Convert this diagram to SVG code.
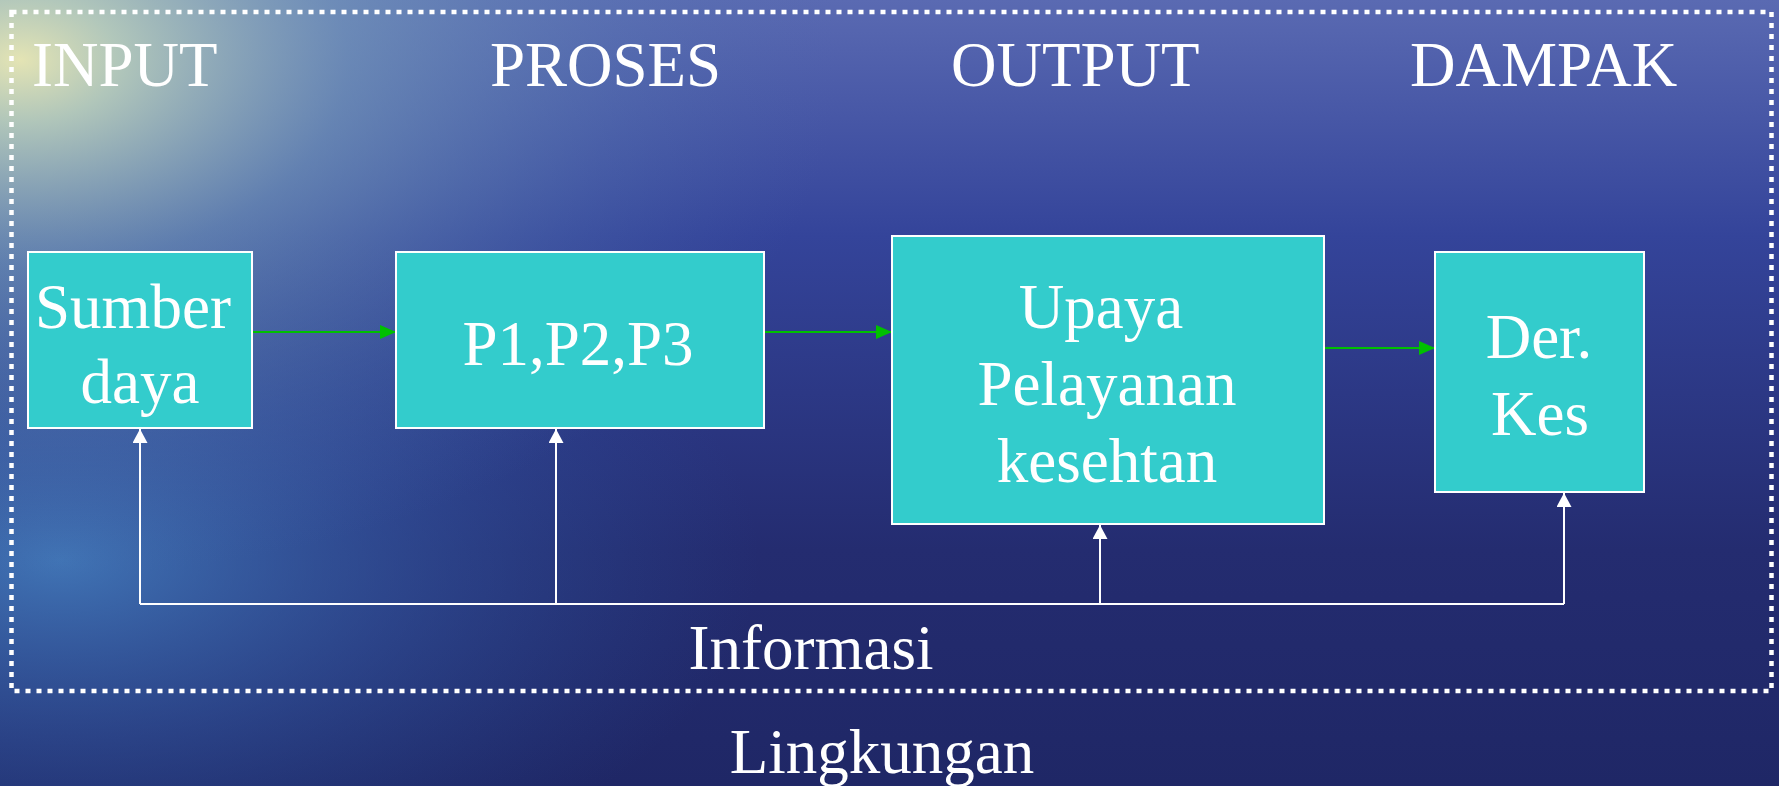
<svg xmlns="http://www.w3.org/2000/svg" width="1779" height="786" viewBox="0 0 1779 786">
<defs>
<linearGradient id="bgv" x1="0" y1="0" x2="0" y2="1">
<stop offset="0" stop-color="#5a6ab2"/>
<stop offset="0.3" stop-color="#34449a"/>
<stop offset="0.7" stop-color="#242c70"/>
<stop offset="1" stop-color="#1f2766"/>
</linearGradient>
<radialGradient id="glow" cx="0" cy="0" r="1" gradientUnits="userSpaceOnUse" gradientTransform="translate(20,60) scale(820,520)">
<stop offset="0" stop-color="#e4e4b4" stop-opacity="1"/>
<stop offset="0.12" stop-color="#bcd2bc" stop-opacity="0.9"/>
<stop offset="0.4" stop-color="#7aa2bc" stop-opacity="0.6"/>
<stop offset="0.75" stop-color="#5a80b4" stop-opacity="0.25"/>
<stop offset="1" stop-color="#4a6aaa" stop-opacity="0"/>
</radialGradient>
<radialGradient id="leftblue" cx="0" cy="0" r="1" gradientUnits="userSpaceOnUse" gradientTransform="translate(60,560) scale(700,360)">
<stop offset="0" stop-color="#4a8ccc" stop-opacity="0.75"/>
<stop offset="0.5" stop-color="#3a6ab4" stop-opacity="0.4"/>
<stop offset="1" stop-color="#2a55a0" stop-opacity="0"/>
</radialGradient>
<marker id="ag" markerWidth="16" markerHeight="14" refX="16" refY="7" orient="auto" markerUnits="userSpaceOnUse">
<path d="M0,0 L16,7 L0,14 z" fill="#00c000"/>
</marker>
<marker id="aw" markerWidth="15" markerHeight="15" refX="14" refY="7.5" orient="auto" markerUnits="userSpaceOnUse">
<path d="M0,0 L14,7.5 L0,15 z" fill="#ffffff"/>
</marker>
</defs>
<style>
.box{fill:#33cccc;stroke:#ffffff;stroke-width:2}
.t{font-family:"Liberation Serif","Times New Roman",serif;font-size:63px;fill:#ffffff}
.m{text-anchor:middle}
.g{stroke:#00c000;stroke-width:2;fill:none;marker-end:url(#ag)}
.w{stroke:#ffffff;stroke-width:2;fill:none}
.wa{stroke:#ffffff;stroke-width:2;fill:none;marker-end:url(#aw)}
</style>
<rect x="0" y="0" width="1779" height="786" fill="url(#bgv)"/>
<rect x="0" y="0" width="1779" height="786" fill="url(#leftblue)"/>
<rect x="0" y="0" width="1779" height="786" fill="url(#glow)"/>
<rect id="frame" x="11.5" y="12" width="1760" height="679" fill="none" stroke="#ffffff" stroke-width="4.5" stroke-dasharray="5 6"/>
<g id="headers">
<text class="t" x="32" y="86">INPUT</text>
<text class="t" x="490" y="86">PROSES</text>
<text class="t" x="951" y="86">OUTPUT</text>
<text class="t" x="1410" y="86">DAMPAK</text>
</g>
<g id="connectors">
<line class="g" x1="253" y1="332" x2="396" y2="332"/>
<line class="g" x1="765" y1="332" x2="892" y2="332"/>
<line class="g" x1="1325" y1="348" x2="1435" y2="348"/>
<polyline class="w" points="140,604 1564,604"/>
<line class="wa" x1="140" y1="604" x2="140" y2="429"/>
<line class="wa" x1="556" y1="604" x2="556" y2="429"/>
<line class="wa" x1="1100" y1="604" x2="1100" y2="525"/>
<line class="wa" x1="1564" y1="604" x2="1564" y2="493"/>
</g>
<g id="sumber">
<rect class="box" x="28" y="252" width="224" height="176"/>
<text class="t m" x="133" y="328">Sumber</text>
<text class="t m" x="140" y="403">daya</text>
</g>
<g id="proses">
<rect class="box" x="396" y="252" width="368" height="176"/>
<text class="t m" x="578" y="365">P1,P2,P3</text>
</g>
<g id="upaya">
<rect class="box" x="892" y="236" width="432" height="288"/>
<text class="t m" x="1101" y="328">Upaya</text>
<text class="t m" x="1107" y="405">Pelayanan</text>
<text class="t m" x="1107" y="482">kesehtan</text>
</g>
<g id="derkes">
<rect class="box" x="1435" y="252" width="209" height="240"/>
<text class="t m" x="1539" y="358">Der.</text>
<text class="t m" x="1540" y="435">Kes</text>
</g>
<g id="labels">
<text class="t m" x="811" y="669">Informasi</text>
<text class="t m" x="882" y="773">Lingkungan</text>
</g>
</svg>
